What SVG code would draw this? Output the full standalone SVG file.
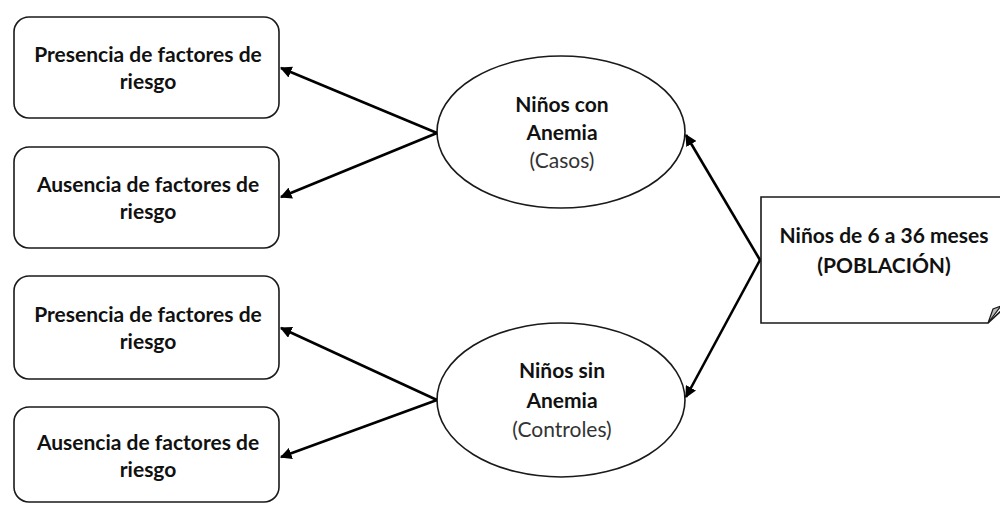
<svg xmlns="http://www.w3.org/2000/svg" width="1000" height="505" viewBox="0 0 1000 505">
<defs>
<style>
.box{fill:#fff;stroke:#1a1a1a;stroke-width:1.6}
.t{font-family:Lato,"Open Sans",sans-serif;font-size:21px;text-anchor:middle;fill:#111}
.b{font-weight:bold}
.r{fill:#333}
.c{stroke:#000;stroke-width:2.6;fill:none;marker-end:url(#ah)}
</style>
<marker id="ah" viewBox="0 0 10 10" refX="9" refY="5" markerWidth="4.5" markerHeight="4.5" orient="auto" markerUnits="strokeWidth">
<path d="M0,0 L10,5 L0,10 Z" fill="#000"/>
</marker>
</defs>
<rect width="1000" height="505" fill="#fff"/>
<g id="box1">
<rect class="box" x="14" y="17" width="265" height="101" rx="15"/>
<text class="t b" x="148" y="62">Presencia de factores de</text>
<text class="t b" x="148" y="89">riesgo</text>
</g>
<g id="box2">
<rect class="box" x="14" y="147" width="265" height="101" rx="15"/>
<text class="t b" x="148" y="192">Ausencia de factores de</text>
<text class="t b" x="148" y="219">riesgo</text>
</g>
<g id="box3">
<rect class="box" x="14" y="276" width="265" height="103" rx="15"/>
<text class="t b" x="148" y="322">Presencia de factores de</text>
<text class="t b" x="148" y="349">riesgo</text>
</g>
<g id="box4">
<rect class="box" x="14" y="407" width="265" height="95" rx="15"/>
<text class="t b" x="148" y="450">Ausencia de factores de</text>
<text class="t b" x="148" y="477">riesgo</text>
</g>
<g id="casos">
<ellipse class="box" cx="561" cy="132" rx="124" ry="76"/>
<text class="t b" x="562" y="112">Niños con</text>
<text class="t b" x="562" y="140">Anemia</text>
<text class="t r" x="562" y="168">(Casos)</text>
</g>
<g id="controles">
<ellipse class="box" cx="561" cy="400" rx="124" ry="77"/>
<text class="t b" x="562" y="378">Niños sin</text>
<text class="t b" x="562" y="408">Anemia</text>
<text class="t r" x="562" y="437">(Controles)</text>
</g>
<g id="poblacion">
<path class="box" d="M761,197 L1002,197 L1002,310 L988,323 L761,323 Z"/>
<path d="M988,323 L993,309 L1001,306 Z" fill="#bbb" stroke="#1a1a1a" stroke-width="1.2"/>
<text class="t b" x="884" y="243">Niños de 6 a 36 meses</text>
<text class="t b" x="884" y="273">(POBLACIÓN)</text>
</g>
<g id="connectors">
<line class="c" x1="437" y1="133" x2="281" y2="68"/>
<line class="c" x1="437" y1="133" x2="281" y2="197"/>
<line class="c" x1="437" y1="400" x2="281" y2="328"/>
<line class="c" x1="437" y1="400" x2="281" y2="457"/>
<line class="c" x1="760" y1="260" x2="686" y2="135"/>
<line class="c" x1="760" y1="260" x2="686" y2="397"/>
</g>
</svg>
